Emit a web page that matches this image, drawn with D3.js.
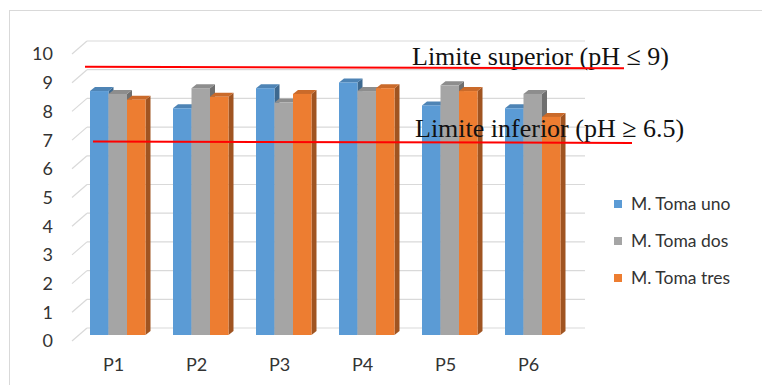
<!DOCTYPE html>
<html>
<head>
<meta charset="utf-8">
<script src="https://cdn.jsdelivr.net/npm/d3@7/dist/d3.min.js"></script>
<style>
  html, body { margin: 0; padding: 0; background: #fff; }
  svg { display: block; }
</style>
</head>
<body>
<div id="chart"></div>
<script>
// datos (pH por punto de muestreo)
var categories = ["P1", "P2", "P3", "P4", "P5", "P6"];
var seriesNames = ["M. Toma uno", "M. Toma dos", "M. Toma tres"];
var tomaUno  = [8.5, 7.9, 8.6, 8.8, 8.0, 7.9];
var tomaDos  = [8.4, 8.6, 8.1, 8.5, 8.7, 8.4];
var tomaTres = [8.2, 8.3, 8.4, 8.6, 8.5, 7.6];
var yTicks = [0, 1, 2, 3, 4, 5, 6, 7, 8, 9, 10];
var limitValues = [9.1, 6.5];
var limitLabels = ["Limite superior (pH \u2264 9)", "Limite inferior (pH \u2265 6.5)"];

var colors = ["#5B9BD5", "#A5A5A5", "#ED7D31"];
var series = [tomaUno, tomaDos, tomaTres];

var W = 762, H = 385;
var svg = d3.select("#chart").append("svg")
    .attr("width", W)
    .attr("height", H);

// marco del gráfico
svg.append("rect")
    .attr("x", 9.5).attr("y", 10.5)
    .attr("width", W).attr("height", H)
    .attr("fill", "#fff")
    .attr("stroke", "#d9d9d9");

// escalas: plano frontal (etiquetas), pared trasera y caras de las barras
var wallDx = 15, wallDy = -13;
var barDy = -6;
var depthX = 5, depthY = -4;

var x = d3.scaleBand()
    .domain(categories)
    .range([72, 570]);

var y = d3.scaleLinear()
    .domain([0, 10])
    .range([341, 54]);

var yWall = function (v) { return y(v) + wallDy; };
var yBar = function (v) { return y(v) + barDy; };

var barW = 18.5, barOffset = 18;
var sansFont = "Lato, 'Open Sans', sans-serif";
var textColor = "#333";

// rejilla de la pared trasera + diagonales del lado izquierdo
var grid = svg.append("g");
yTicks.forEach(function (t) {
    grid.append("line")
        .attr("x1", x.range()[0] + wallDx).attr("x2", x.range()[1] + wallDx)
        .attr("y1", yWall(t)).attr("y2", yWall(t))
        .attr("stroke", "#d9d9d9").attr("stroke-width", 1.2);
    grid.append("line")
        .attr("x1", x.range()[0]).attr("y1", y(t))
        .attr("x2", x.range()[0] + wallDx).attr("y2", yWall(t))
        .attr("stroke", "#d9d9d9").attr("stroke-width", 1.2);
});

// etiquetas del eje Y
svg.append("g").selectAll("text")
    .data(yTicks)
    .enter().append("text")
    .attr("x", 53)
    .attr("y", function (d) { return y(d); })
    .attr("dy", "0.36em")
    .attr("text-anchor", "end")
    .attr("font-family", sansFont)
    .attr("font-size", 18)
    .attr("fill", textColor)
    .text(function (d) { return d; });

// etiquetas del eje X
svg.append("g").selectAll("text")
    .data(categories)
    .enter().append("text")
    .attr("x", function (d) { return x(d) + x.bandwidth() / 2; })
    .attr("y", 365)
    .attr("dy", "0.36em")
    .attr("text-anchor", "middle")
    .attr("font-family", sansFont)
    .attr("font-size", 18)
    .attr("fill", textColor)
    .text(function (d) { return d; });

// columnas 3D
var bars = [];
categories.forEach(function (c, i) {
    series.forEach(function (s, j) {
        bars.push({ cat: c, s: j, v: s[i] });
    });
});

var barG = svg.append("g");
bars.forEach(function (b) {
    var x0 = x(b.cat) + barOffset + b.s * barW;
    var x1 = x0 + barW;
    var top = yBar(b.v), base = yBar(0);
    var col = d3.color(colors[b.s]);
    var g = barG.append("g");
    // cara lateral
    g.append("path")
        .attr("d", "M" + x1 + "," + top + "L" + (x1 + depthX) + "," + (top + depthY) +
            "L" + (x1 + depthX) + "," + (base + depthY) + "L" + x1 + "," + base + "Z")
        .attr("fill", col.darker(1.1));
    // cara superior
    g.append("path")
        .attr("d", "M" + x0 + "," + top + "L" + (x0 + depthX) + "," + (top + depthY) +
            "L" + (x1 + depthX) + "," + (top + depthY) + "L" + x1 + "," + top + "Z")
        .attr("fill", col.darker(0.45));
    // cara frontal
    g.append("rect")
        .attr("x", x0).attr("y", top)
        .attr("width", barW).attr("height", base - top)
        .attr("fill", col);
});

// líneas de límite (anotaciones)
var limitX = [[85, 624], [93, 632]];
var labelPos = [[412, -2], [415, -4.5]];
limitValues.forEach(function (v, i) {
    svg.append("text")
        .attr("x", labelPos[i][0])
        .attr("y", yWall(v) + labelPos[i][1])
        .attr("font-family", "'Liberation Serif', 'Times New Roman', serif")
        .attr("font-size", 26)
        .attr("fill", "#111")
        .text(limitLabels[i]);
    svg.append("line")
        .attr("x1", limitX[i][0]).attr("x2", limitX[i][1])
        .attr("y1", yWall(v)).attr("y2", yWall(v) + 1.5)
        .attr("stroke", "#ff0000").attr("stroke-width", 2);
});

// leyenda
var legend = svg.append("g").attr("transform", "translate(614,204)");
seriesNames.forEach(function (n, i) {
    var row = legend.append("g").attr("transform", "translate(0," + (i * 37) + ")");
    row.append("rect")
        .attr("x", 0).attr("y", -4)
        .attr("width", 8).attr("height", 8)
        .attr("fill", colors[i]);
    row.append("text")
        .attr("x", 17).attr("y", 0)
        .attr("dy", "0.36em")
        .attr("font-family", sansFont)
        .attr("font-size", 17.5)
        .attr("fill", textColor)
        .text(n);
});
</script>
</body>
</html>
